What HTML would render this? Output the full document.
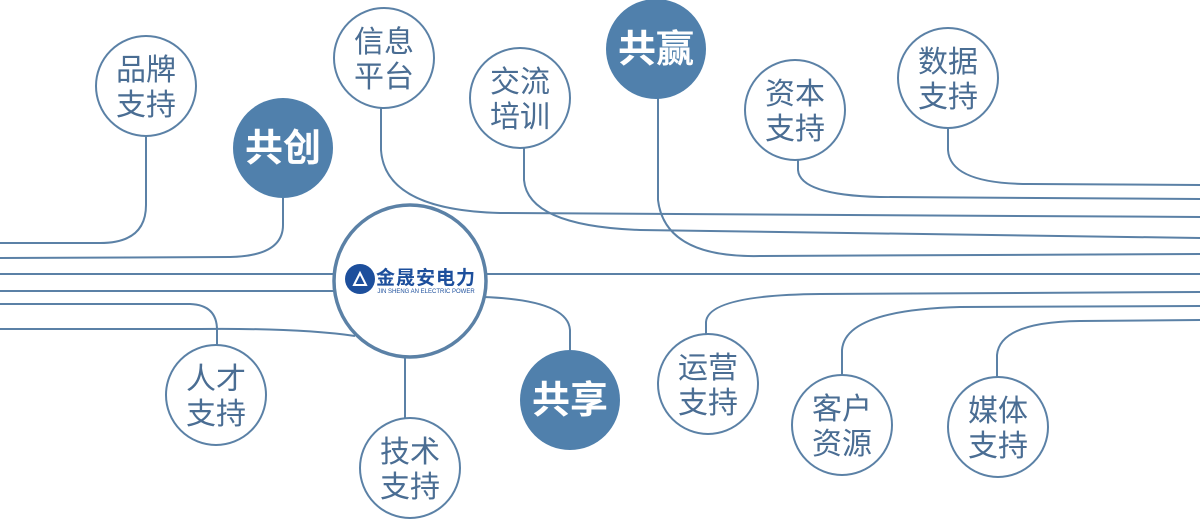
<!DOCTYPE html>
<html><head><meta charset="utf-8"><style>
html,body{margin:0;padding:0;background:#fff;}
svg{display:block}
text{font-family:"Liberation Sans","Noto Sans CJK SC",sans-serif;text-anchor:middle}
.o{fill:#fff;stroke:#5b81a6;stroke-width:2}
.f{fill:#5080ac}
.t{fill:#4a6d93;font-size:30px}
.b{fill:#fff;font-size:38px;font-weight:bold}
path{fill:none;stroke:#5b81a6;stroke-width:2}
</style></head><body>
<svg width="1200" height="519" viewBox="0 0 1200 519">
<path d="M146 136 V205 Q146 243 100 243 H0"/>
<path d="M283 198 V225 Q283 256 230 257 L0 258"/>
<path d="M0 274 H1200"/>
<path d="M0 291 H340"/>
<path d="M0 304 H190 Q217 305 217 330 V345"/>
<path d="M0 329 H200 Q300 328 355 336"/>
<path d="M405 355 V418"/>
<path d="M483 297 Q568 300 570 330 V350"/>
<path d="M381 108 V150 Q385 210 500 213 L1200 217"/>
<path d="M524 148 V180 Q528 226 640 230 L1200 238"/>
<path d="M658 98 V200 Q665 258 760 256 L1200 254"/>
<path d="M798 160 V170 Q800 195 880 197 L1200 199"/>
<path d="M948 128 V150 Q950 184 1030 184 L1200 185"/>
<path d="M706 334 V322 Q708 295 820 294 L1200 292"/>
<path d="M842 375 V350 Q845 310 960 307 L1200 306"/>
<path d="M997 377 V355 Q1000 322 1080 321 L1200 320"/>
<circle cx="410" cy="281" r="76" fill="#fff" stroke="#5b81a6" stroke-width="3.5"/>
<circle cx="360" cy="279" r="15" fill="#1d4f9c"/>
<path d="M354 285 L360 273 L366 285 Z" style="stroke:#fff;stroke-width:2"/>
<text x="426" y="284" style="fill:#1d4f9c;font-size:19px;font-weight:bold;letter-spacing:1px">金晟安电力</text>
<text x="426" y="293" style="fill:#1d4f9c;font-size:6px">JIN SHENG AN ELECTRIC POWER</text>
<circle class="o" cx="146" cy="86" r="50"/><text class="t" x="146" y="80">品牌</text><text class="t" x="146" y="115">支持</text>
<circle class="o" cx="384" cy="58" r="50"/><text class="t" x="384" y="52">信息</text><text class="t" x="384" y="87">平台</text>
<circle class="o" cx="520" cy="98" r="50"/><text class="t" x="520" y="92">交流</text><text class="t" x="520" y="127">培训</text>
<circle class="o" cx="795" cy="110" r="50"/><text class="t" x="795" y="104">资本</text><text class="t" x="795" y="139">支持</text>
<circle class="o" cx="948" cy="78" r="50"/><text class="t" x="948" y="72">数据</text><text class="t" x="948" y="107">支持</text>
<circle class="o" cx="216" cy="395" r="50"/><text class="t" x="216" y="389">人才</text><text class="t" x="216" y="424">支持</text>
<circle class="o" cx="410" cy="468" r="50"/><text class="t" x="410" y="462">技术</text><text class="t" x="410" y="497">支持</text>
<circle class="o" cx="708" cy="384" r="50"/><text class="t" x="708" y="378">运营</text><text class="t" x="708" y="413">支持</text>
<circle class="o" cx="842" cy="425" r="50"/><text class="t" x="842" y="419">客户</text><text class="t" x="842" y="454">资源</text>
<circle class="o" cx="998" cy="427" r="50"/><text class="t" x="998" y="421">媒体</text><text class="t" x="998" y="456">支持</text>
<circle class="f" cx="656" cy="49" r="50"/><text class="b" x="656" y="62">共赢</text>
<circle class="f" cx="283" cy="148" r="50"/><text class="b" x="283" y="161">共创</text>
<circle class="f" cx="570" cy="400" r="50"/><text class="b" x="570" y="413">共享</text>
</svg>
</body></html>
